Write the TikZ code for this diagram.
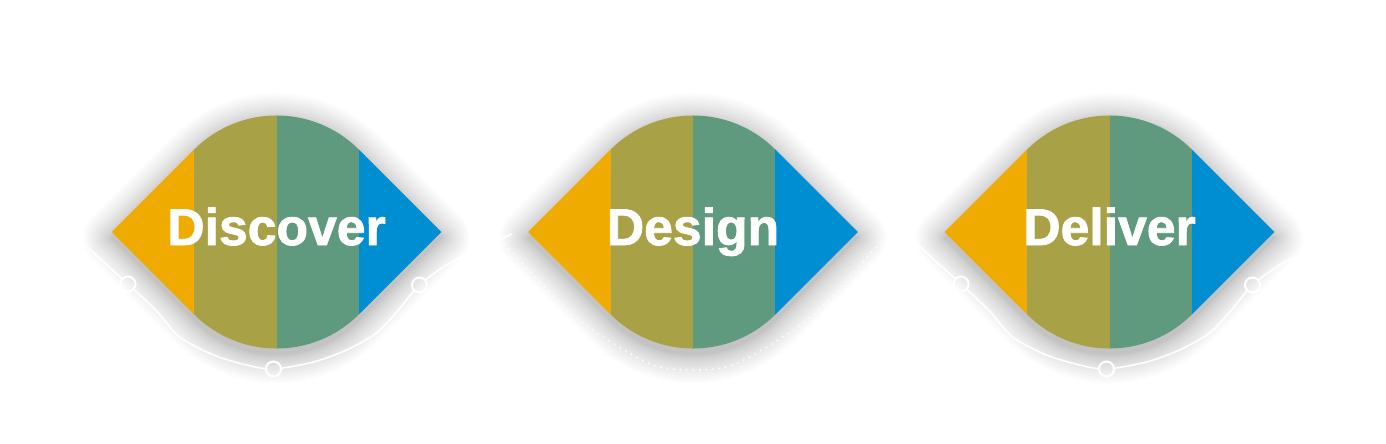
\documentclass[tikz,border=0pt]{standalone}
\usepackage{fontspec}
\setmainfont{Liberation Sans}[BoldFeatures={FakeBold=1.6}]
\definecolor{cOrange}{HTML}{EFAB00}
\definecolor{cOlive}{HTML}{A8A145}
\definecolor{cGreen}{HTML}{5F9A7E}
\definecolor{cBlue}{HTML}{008ED2}
\tikzset{
  dilated/.style={insert path={({-164.8-0.7071*#1},{0.7071*#1}) arc[start angle=135, end angle=225, radius=#1] -- (225:{116.5+#1}) arc[start angle=225, end angle=315, radius={116.5+#1}] -- ({164.8+0.7071*#1},{-0.7071*#1}) arc[start angle=315, end angle=405, radius=#1] -- (45:{116.5+#1}) arc[start angle=45, end angle=135, radius={116.5+#1}] -- cycle}},
  shadowlayer/.style={fill=black, fill opacity=0.0095},
  decoline/.style={draw=white, line width=1.6pt},
  ringmark/.style={draw=white, line width=2pt},
  dotline/.style={draw=white, line width=2pt, line cap=round, dash pattern=on 0pt off 6.5pt},
  lbl/.style={text=white, inner sep=0pt, anchor=base, font=\fontsize{51.7}{60}\selectfont\bfseries}
}
\begin{document}
\begin{tikzpicture}[x=1pt,y=-1pt]
\fill[white] (0,0) rectangle (1386,444);
\useasboundingbox (0,0) rectangle (1386,444);
% shadows
\foreach \cx in {276.5,693,1109.5} {
  \begin{scope}[shift={(\cx,238)}]
    \foreach \k in {1,...,30} {
      \pgfmathsetmacro\ww{29*(\k/30)^1.4}
      \path[shadowlayer, dilated=\ww];
    }
  \end{scope}
}
% decorative lines with rings (Discover, Deliver)
\foreach \cx in {276.5,1109.5} {
  \begin{scope}[shift={(\cx,232)}]
    \coordinate (ringL) at (-148.5,52);
    \coordinate (ringB) at (-3,137);
    \coordinate (ringR) at (143,53);
    \begin{scope}[even odd rule]
      \clip (-300,-150) rectangle (300,200)
        (ringL) circle[radius=8] (ringB) circle[radius=8] (ringR) circle[radius=8];
      \draw[decoline] plot[smooth] coordinates {(-230,-25) (-187,17) (-148.5,52) (-120,79) (-97,105) (-63,123) (-30,133) (-3,137) (37,130) (70,118) (100,101) (121,79) (143,53) (170,33) (200,18) (235,2)};
    \end{scope}
    \draw[ringmark] (ringL) circle[radius=7.5];
    \draw[ringmark] (ringB) circle[radius=7.5];
    \draw[ringmark] (ringR) circle[radius=7.5];
  \end{scope}
}
% dotted line (Design)
\begin{scope}[shift={(693,232)}]
  \draw[dotline] plot[smooth] coordinates {(-225,-25) (-183,18) (-153,50) (-123,80) (-90,105) (-40,133) (0,138) (40,133) (90,105) (123,80) (153,50) (183,15) (225,-25)};
\end{scope}
% lenses
\foreach \cx/\txt/\nm in {276.5/Discover/discover, 693/Design/design, 1109.5/Deliver/deliver} {
  \begin{scope}[shift={(\cx,232)}]
    \begin{scope}
      \clip (-164.8,0) -- (-82.4,-82.4) arc[start angle=225, end angle=315, radius=116.5] -- (164.8,0) -- (82.4,82.4) arc[start angle=45, end angle=135, radius=116.5] -- cycle;
      \fill[cOrange] (-170,-120) rectangle (-82.4,120);
      \fill[cOlive] (-82.4,-120) rectangle (0,120);
      \fill[cGreen] (0,-120) rectangle (82.4,120);
      \fill[cBlue] (82.4,-120) rectangle (170,120);
    \end{scope}
    \node[lbl] (\nm) at (0,13) {\txt};
  \end{scope}
}
\end{tikzpicture}
\end{document}
